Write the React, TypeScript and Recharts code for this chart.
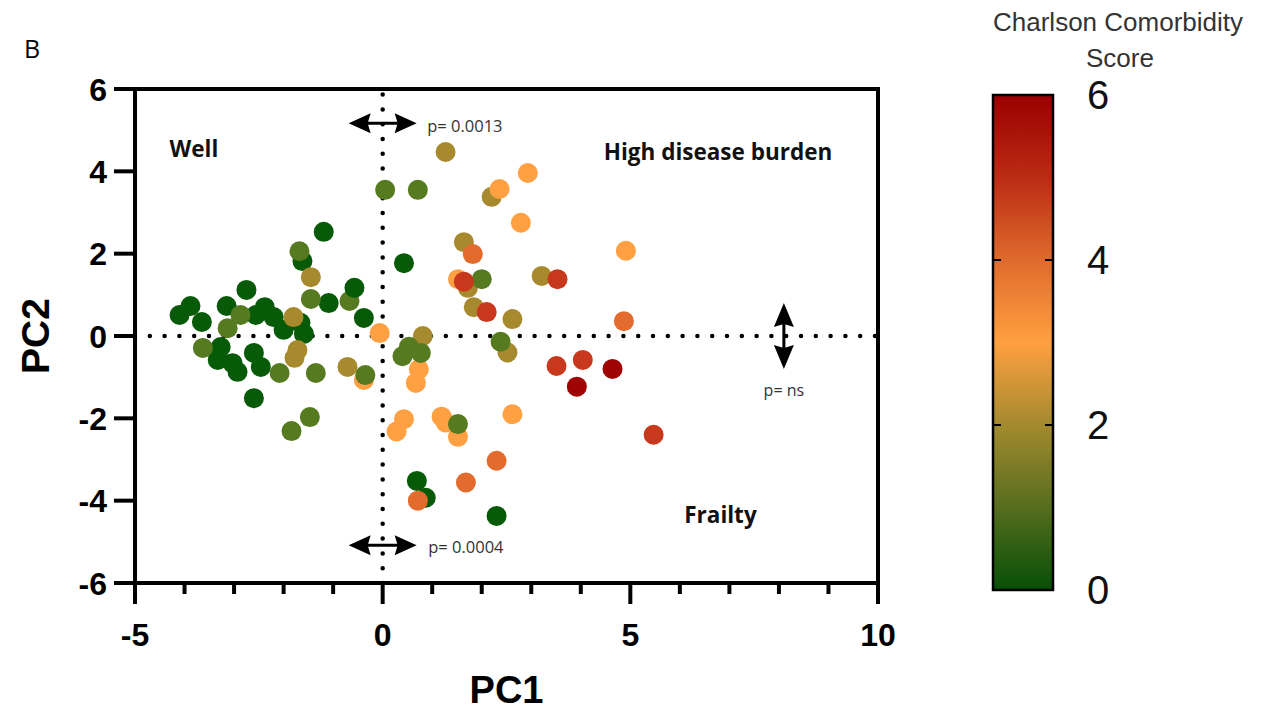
import React from 'react';
import {
  ScatterChart,
  Scatter,
  XAxis,
  YAxis,
  ReferenceLine,
  ReferenceArea,
  ReferenceDot,
  BarChart,
  Bar,
  Label,
  Customized,
} from 'recharts';

// Principal component scores and Charlson Comorbidity Index for each patient
const pc1Values = [
  -4.1, -3.88, -3.65, -3.15, -2.75, -2.56, -2.38, -2.2, -2.0, -1.66, -1.59, -3.27, -3.33,
  -3.03, -2.93, -2.6, -2.46, -2.6, -1.19, -1.62, -1.09, -0.38, 0.43, 0.69, 0.87, 2.3,
  -1.45, -1.8, -1.72, -1.78, -0.71, 1.27, 2.2, 1.64, 1.72, 3.21, 1.84, 2.62, 0.81, 2.52,
  -0.06, -0.38, 2.93, 2.36, 2.79, 4.91, 1.52, 0.73, 0.67, 2.62, 0.43, 0.28, 1.19, 1.27, 1.52,
  0.05, 0.71, -1.68, -1.45, -0.67, -2.87, -3.13, -3.63, -2.08, -1.35, -0.35, -1.47, -1.84,
  2.0, 2.38, 0.53, 0.4, 0.77, 1.52,
  -0.57,
  1.82, 4.87, 2.3, 1.68, 0.71,
  1.64, 3.53, 2.1, 3.51, 4.04, 5.47,
  4.64, 3.92,
];

const pc2Values = [
  0.51, 0.73, 0.34, 0.73, 1.12, 0.51, 0.7, 0.46, 0.15, 0.32, 0.05, -0.27, -0.58,
  -0.66, -0.87, -0.41, -0.75, -1.51, 2.53, 1.82, 0.8, 0.44, 1.77, -3.52, -3.93, -4.37,
  1.43, 0.46, -0.34, -0.53, -0.75, 4.47, 3.38, 2.28, 1.17, 1.46, 0.7, 0.41, 0.0, -0.4,
  0.07, -1.07, 3.96, 3.57, 2.75, 2.07, 1.38, -0.81, -1.14, -1.9, -2.02, -2.32, -1.96, -2.1, -2.45,
  3.55, 3.55, 2.06, 0.9, 0.85, 0.51, 0.19, -0.29, -0.9, -0.9, -0.95, -1.97, -2.31,
  1.38, -0.14, -0.26, -0.49, -0.41, -2.14,
  1.17,
  1.99, 0.36, -3.03, -3.56, -4.0,
  1.32, 1.38, 0.58, -0.73, -0.58, -2.4,
  -0.8, -1.23,
];

const cciScores = [
  0, 0, 0, 0, 0, 0, 0, 0, 0, 0, 0, 0, 0,
  0, 0, 0, 0, 0, 0, 0, 0, 0, 0, 0, 0, 0,
  2, 2, 2, 2, 2, 2, 2, 2, 2, 2, 2, 2, 2, 2,
  3, 3, 3, 3, 3, 3, 3, 3, 3, 3, 3, 3, 3, 3, 3,
  1, 1, 1, 1, 1, 1, 1, 1, 1, 1, 1, 1, 1,
  1, 1, 1, 1, 1, 1,
  0,
  4, 4, 4, 4, 4,
  5, 5, 5, 5, 5, 5,
  6, 6,
];

const xTickValues = [-5, -4, -3, -2, -1, 0, 1, 2, 3, 4, 5, 6, 7, 8, 9, 10];
const xMajorTicks = [-5, 0, 5, 10];
const yTickValues = [-6, -4, -2, 0, 2, 4, 6];
const colorbarTicks = [0, 2, 4, 6];
const colorbarInnerTicks = [2, 4];

// Colour for each integer comorbidity score (0 = green … 6 = dark red)
const scoreColors = ['#075a07', '#567a1f', '#a88a2e', '#ffa043', '#e26b2d', '#c8381c', '#a00303'];

const gradientStops = [
  { offset: '0%', color: '#990000' },
  { offset: '16.7%', color: '#bb2c14' },
  { offset: '33.3%', color: '#df6a2c' },
  { offset: '50%', color: '#ffa040' },
  { offset: '66.7%', color: '#a38a2e' },
  { offset: '83.3%', color: '#566d1e' },
  { offset: '100%', color: '#064f06' },
];

const patients = pc1Values.map((pc1, i) => ({ pc1, pc2: pc2Values[i], cci: cciScores[i] }));
const colorbarData = [{ name: 'cci', max: 6 }];

const WIDTH = 1263;
const HEIGHT = 719;
const AXIS_FONT = 'Liberation Sans, Arial, Helvetica, sans-serif';
const NOTE_FONT = 'Open Sans, Noto Sans, sans-serif';
const COLORBAR_LEFT = 993;
const COLORBAR_WIDTH = 60;
const COLORBAR_AXIS_WIDTH = 120;

const renderXTick = (props: any) => {
  const { x, y, payload } = props;
  const major = xMajorTicks.includes(payload.value);
  return (
    <g>
      <line x1={x} x2={x} y1={y} y2={y + (major ? 21 : 11)} stroke="#000" strokeWidth={4} />
      {major && (
        <text
          x={x}
          y={y + 63}
          textAnchor="middle"
          fontFamily={AXIS_FONT}
          fontWeight="bold"
          fontSize={32}
          fill="#000"
        >
          {payload.value}
        </text>
      )}
    </g>
  );
};

const renderYTick = (props: any) => {
  const { x, y, payload } = props;
  return (
    <g>
      <line x1={x - 21} x2={x} y1={y} y2={y} stroke="#000" strokeWidth={4} />
      <text
        x={x - 28}
        y={y}
        dy="0.36em"
        textAnchor="end"
        fontFamily={AXIS_FONT}
        fontWeight="bold"
        fontSize={32}
        fill="#000"
      >
        {payload.value}
      </text>
    </g>
  );
};

const renderXLabel = (props: any) => {
  const { viewBox } = props;
  return (
    <text
      x={viewBox.x + viewBox.width / 2}
      y={viewBox.y + viewBox.height - 16}
      textAnchor="middle"
      fontFamily={AXIS_FONT}
      fontWeight="bold"
      fontSize={38}
      fill="#000"
    >
      PC1
    </text>
  );
};

const renderYLabel = (props: any) => {
  const { viewBox } = props;
  const cy = viewBox.y + viewBox.height / 2;
  return (
    <text
      transform={`translate(35, ${cy}) rotate(-90)`}
      dy="0.36em"
      textAnchor="middle"
      fontFamily={AXIS_FONT}
      fontWeight="bold"
      fontSize={39}
      fill="#000"
    >
      PC2
    </text>
  );
};

const renderPoint = (props: any) => (
  <circle cx={props.cx} cy={props.cy} r={10} fill={scoreColors[props.payload.cci]} />
);

const horizontalArrow = (props: any) => {
  const { cx, cy } = props;
  return (
    <g>
      <line x1={cx - 16} x2={cx + 16} y1={cy} y2={cy} stroke="#000" strokeWidth={3} />
      <polygon points={`${cx - 34},${cy} ${cx - 12},${cy - 10} ${cx - 15},${cy} ${cx - 12},${cy + 10}`} fill="#000" />
      <polygon points={`${cx + 34},${cy} ${cx + 12},${cy - 10} ${cx + 15},${cy} ${cx + 12},${cy + 10}`} fill="#000" />
    </g>
  );
};

const verticalArrow = (props: any) => {
  const { cx, cy } = props;
  return (
    <g>
      <line x1={cx} x2={cx} y1={cy - 12} y2={cy + 12} stroke="#000" strokeWidth={3} />
      <polygon points={`${cx},${cy - 33} ${cx - 10},${cy - 9} ${cx},${cy - 12} ${cx + 10},${cy - 9}`} fill="#000" />
      <polygon points={`${cx},${cy + 33} ${cx - 10},${cy + 9} ${cx},${cy + 12} ${cx + 10},${cy + 9}`} fill="#000" />
    </g>
  );
};

const noteText = (text: string, anchor: 'start' | 'middle', bold: boolean, size: number, color: string) =>
  (props: any) => (
    <text
      x={props.cx}
      y={props.cy}
      dy="0.35em"
      textAnchor={anchor}
      fontFamily={NOTE_FONT}
      fontWeight={bold ? 'bold' : 'normal'}
      fontSize={size}
      fill={color}
    >
      {text}
    </text>
  );

const renderColorbarTick = (props: any) => {
  const { x, y, payload } = props;
  const inner = colorbarInnerTicks.includes(payload.value);
  return (
    <g>
      {inner && (
        <g>
          <line x1={x - 8} x2={x} y1={y} y2={y} stroke="#000" strokeWidth={2} />
          <line
            x1={x - COLORBAR_WIDTH}
            x2={x - COLORBAR_WIDTH + 8}
            y1={y}
            y2={y}
            stroke="#000"
            strokeWidth={2}
          />
        </g>
      )}
      <text x={x + 34} y={y} dy="0.36em" fontFamily={AXIS_FONT} fontSize={40} fill="#111">
        {payload.value}
      </text>
    </g>
  );
};

const ColorbarTitle = () => (
  <g fontFamily={AXIS_FONT} fontSize={26} fill="#333" textAnchor="middle">
    <text x={1118} y={31}>Charlson Comorbidity</text>
    <text x={1120} y={67}>Score</text>
  </g>
);

const PanelLetter = () => (
  <text x={24} y={58} fontFamily={NOTE_FONT} fontSize={25} fill="#000">
    B
  </text>
);

export default function App() {
  const dotted = {
    stroke: '#000',
    strokeWidth: 4.5,
    strokeDasharray: '0 14.8',
    strokeLinecap: 'round' as const,
  };
  return (
    <div style={{ position: 'absolute', left: 0, top: 0, width: WIDTH, height: HEIGHT, background: '#fff' }}>
      <div style={{ position: 'absolute', left: 0, top: 0 }}>
        <ScatterChart width={WIDTH} height={HEIGHT} margin={{ top: 89, right: 385, bottom: 0, left: 0 }}>
          <XAxis
            type="number"
            dataKey="pc1"
            domain={[-5, 10]}
            ticks={xTickValues}
            interval={0}
            height={136}
            tickSize={0}
            tickMargin={0}
            tickLine={false}
            axisLine={{ stroke: '#000', strokeWidth: 4 }}
            tick={renderXTick}
          >
            <Label content={renderXLabel} />
          </XAxis>
          <YAxis
            type="number"
            dataKey="pc2"
            domain={[-6, 6]}
            ticks={yTickValues}
            interval={0}
            width={135}
            tickSize={0}
            tickMargin={0}
            tickLine={false}
            axisLine={{ stroke: '#000', strokeWidth: 4 }}
            tick={renderYTick}
          >
            <Label content={renderYLabel} />
          </YAxis>
          <ReferenceArea x1={-5} x2={10} y1={-6} y2={6} fill="none" fillOpacity={0} stroke="#000" strokeWidth={4} />
          <ReferenceLine y={0} {...dotted} />
          <ReferenceLine x={0} {...dotted} />
          <ReferenceDot x={0} y={5.17} r={1} shape={horizontalArrow} />
          <ReferenceDot x={0} y={-5.08} r={1} shape={horizontalArrow} />
          <ReferenceDot x={8.1} y={0} r={1} shape={verticalArrow} />
          <ReferenceDot x={0.9} y={5.1} r={1} shape={noteText('p= 0.0013', 'start', false, 16.5, '#333')} />
          <ReferenceDot x={0.92} y={-5.12} r={1} shape={noteText('p= 0.0004', 'start', false, 16.5, '#333')} />
          <ReferenceDot x={8.1} y={-1.31} r={1} shape={noteText('p= ns', 'middle', false, 16, '#333')} />
          <ReferenceDot x={-3.81} y={4.53} r={1} shape={noteText('Well', 'middle', true, 22.5, '#111')} />
          <ReferenceDot x={6.77} y={4.47} r={1} shape={noteText('High disease burden', 'middle', true, 22.5, '#111')} />
          <ReferenceDot x={6.82} y={-4.35} r={1} shape={noteText('Frailty', 'middle', true, 22.5, '#111')} />
          <Scatter data={patients} isAnimationActive={false} shape={renderPoint} />
          <Customized component={PanelLetter} />
        </ScatterChart>
      </div>
      <div style={{ position: 'absolute', left: 0, top: 0 }}>
        <BarChart
          width={WIDTH}
          height={HEIGHT}
          data={colorbarData}
          barCategoryGap={0}
          margin={{
            top: 95,
            bottom: 129,
            left: COLORBAR_LEFT,
            right: WIDTH - COLORBAR_LEFT - COLORBAR_WIDTH - COLORBAR_AXIS_WIDTH,
          }}
        >
          <defs>
            <linearGradient id="cciGradient" x1="0" y1="0" x2="0" y2="1">
              {gradientStops.map((s) => (
                <stop key={s.offset} offset={s.offset} stopColor={s.color} />
              ))}
            </linearGradient>
          </defs>
          <XAxis dataKey="name" hide />
          <Bar dataKey="max" fill="url(#cciGradient)" stroke="#000" strokeWidth={2.5} isAnimationActive={false} />
          <YAxis
            orientation="right"
            domain={[0, 6]}
            ticks={colorbarTicks}
            interval={0}
            width={COLORBAR_AXIS_WIDTH}
            axisLine={false}
            tickLine={false}
            tickSize={0}
            tickMargin={0}
            tick={renderColorbarTick}
          />
          <Customized component={ColorbarTitle} />
        </BarChart>
      </div>
    </div>
  );
}
